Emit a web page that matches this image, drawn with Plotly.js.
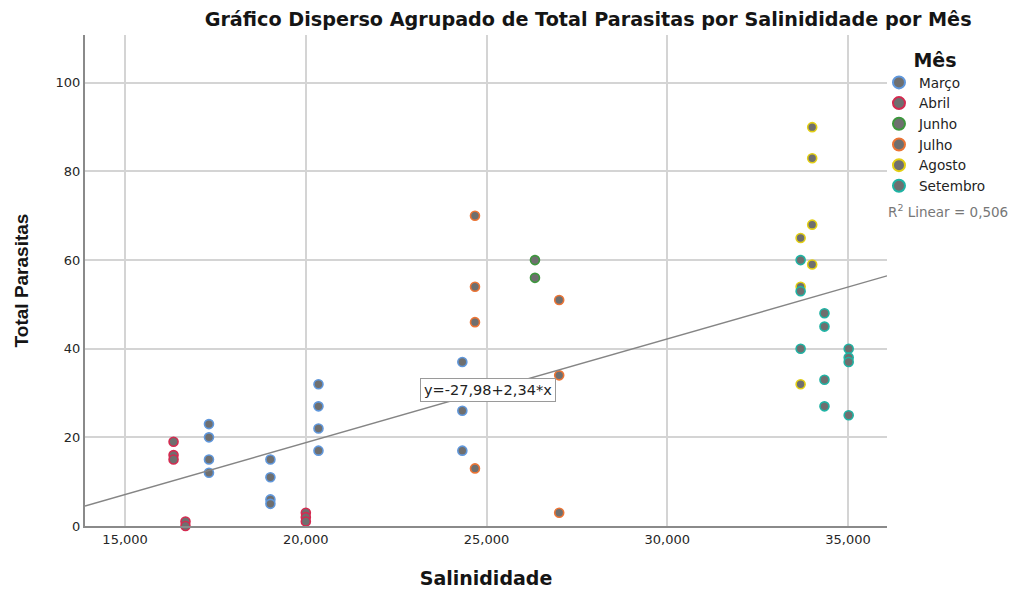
<!DOCTYPE html>
<html>
<head>
<meta charset="utf-8">
<script src="https://cdn.plot.ly/plotly-3.0.1.min.js"></script>
<style>
  html, body { margin: 0; padding: 0; background: #fff; }
  #chart { width: 1014px; height: 590px; }
</style>
</head>
<body>
<div id="chart"></div>
<script>
// Salinidade (x) e Total Parasitas (y) por mês
const months = ["Março", "Abril", "Junho", "Julho", "Agosto", "Setembro"];
const outlineColors = ["#5f97dc", "#d42a50", "#3d973d", "#ec7434", "#e3cf12", "#1fb3a4"];

const marcoX = [17.32, 17.32, 17.32, 17.32, 19.02, 19.02, 19.02, 19.02, 20.35, 20.35, 20.35, 20.35, 24.33, 24.33, 24.33];
const marcoY = [23, 20, 15, 12, 15, 11, 6, 5, 32, 27, 22, 17, 37, 26, 17];

const abrilX = [16.34, 16.34, 16.34, 16.67, 16.67, 20.0, 20.0, 20.0];
const abrilY = [19, 16, 15, 1, 0, 3, 2, 1];

const junhoX = [26.34, 26.34];
const junhoY = [60, 56];

const julhoX = [24.68, 24.68, 24.68, 24.68, 27.01, 27.01, 27.01];
const julhoY = [70, 54, 46, 13, 51, 34, 3];

const agostoX = [34.01, 34.01, 34.01, 34.01, 33.69, 33.69, 33.69];
const agostoY = [90, 83, 68, 59, 65, 54, 32];

const setembroX = [33.69, 33.69, 33.69, 34.35, 34.35, 34.35, 34.35, 35.02, 35.02, 35.02, 35.02];
const setembroY = [60, 53, 40, 48, 45, 33, 27, 40, 38, 37, 25];

// Linear fit shown in the equation label
const intercept = -27.98;
const slope = 2.34;
const rSquared = "0,506";

const xRange = [13.89, 36.08];
const yRange = [0, 110.8];
const xTicks = [15, 20, 25, 30, 35];
const yTicks = [0, 20, 40, 60, 80, 100];

const seriesX = [marcoX, abrilX, junhoX, julhoX, agostoX, setembroX];
const seriesY = [marcoY, abrilY, junhoY, julhoY, agostoY, setembroY];

const traces = months.map((m, i) => ({
  type: "scatter",
  mode: "markers",
  name: m,
  x: seriesX[i],
  y: seriesY[i],
  cliponaxis: false,
  marker: {
    symbol: "circle",
    size: 9,
    color: "#6f6f6f",
    line: { color: outlineColors[i], width: 1.6 }
  },
  hoverinfo: "x+y+name"
}));

traces.push({
  type: "scatter",
  mode: "lines",
  x: xRange,
  y: xRange.map(v => intercept + slope * v),
  line: { color: "#858585", width: 1.4 },
  showlegend: false,
  hoverinfo: "skip"
});

const fontFamily = "'DejaVu Sans', Verdana, sans-serif";
const narrowFamily = "Arial, 'Liberation Sans', Helvetica, sans-serif";

const layout = {
  width: 1014,
  height: 590,
  separators: ",.",
  paper_bgcolor: "#ffffff",
  plot_bgcolor: "#ffffff",
  font: { family: fontFamily, color: "#222", size: 13 },
  margin: { l: 85, r: 127, t: 35, b: 64 },
  title: {
    text: "<b>Gráfico Disperso Agrupado de Total Parasitas por Salinididade por Mês</b>",
    font: { size: 19.2, color: "#151515", family: fontFamily },
    xref: "container", x: 0.58, xanchor: "center",
    yref: "container", y: 0.968, yanchor: "middle"
  },
  xaxis: {
    range: xRange,
    tickvals: xTicks,
    ticktext: xTicks.map(v => v.toFixed(3).replace(".", ",")),
    showgrid: true,
    gridcolor: "#d4d4d4",
    gridwidth: 1.5,
    zeroline: false,
    showline: true,
    linecolor: "#8a8a8a",
    linewidth: 2,
    ticks: "",
    tickfont: { size: 13, color: "#262626" },
    title: { text: "<b>Salinididade</b>", font: { size: 19, color: "#151515" }, standoff: 26 }
  },
  yaxis: {
    range: yRange,
    tickvals: yTicks,
    showgrid: true,
    gridcolor: "#d4d4d4",
    gridwidth: 1.5,
    zeroline: false,
    showline: true,
    linecolor: "#8a8a8a",
    linewidth: 2,
    ticks: "",
    tickfont: { size: 13, color: "#262626" },
    title: { text: "<b>Total Parasitas</b>", font: { size: 19, color: "#151515", family: narrowFamily }, standoff: 22 }
  },
  legend: {
    x: 0.99, xanchor: "left",
    y: 0.985, yanchor: "top",
    bgcolor: "rgba(0,0,0,0)",
    itemsizing: "constant",
    tracegroupgap: 0,
    font: { size: 13.6, color: "#222" },
    title: { text: "<b>Mês</b>", side: "top center", font: { size: 19, color: "#151515" } }
  },
  annotations: [
    {
      xref: "x", yref: "y",
      x: 25.03, y: 30.6,
      text: "y=-27,98+2,34*x",
      showarrow: false,
      bgcolor: "#ffffff",
      bordercolor: "#9a9a9a",
      borderwidth: 1,
      borderpad: 3,
      font: { size: 14.5, color: "#222" }
    },
    {
      xref: "paper", yref: "paper",
      x: 0.999, xanchor: "left",
      y: (526 - 211) / 491, yanchor: "middle",
      text: "R<sup>2</sup> Linear = " + rSquared,
      showarrow: false,
      font: { size: 13.5, color: "#777" }
    }
  ],
  hovermode: "closest"
};

Plotly.newPlot("chart", traces, layout, { displayModeBar: false, responsive: false });
</script>
</body>
</html>
